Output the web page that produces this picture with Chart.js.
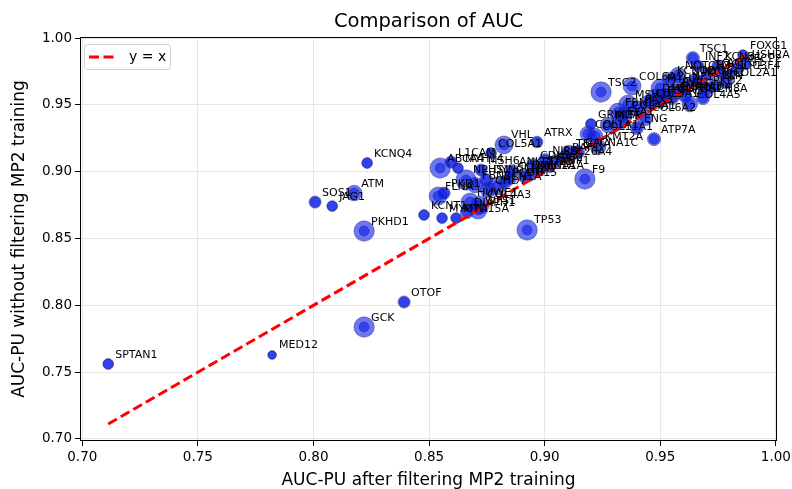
<!DOCTYPE html>
<html lang="en">
<head>
<meta charset="UTF-8">
<title>Comparison of AUC</title>
<script src="https://cdn.jsdelivr.net/npm/chart.js"></script>
<style>
    body { margin: 0; background: #fff; }
    #wrap { width: 792px; height: 489px; position: relative; }
</style>
</head>
<body>
<div id="wrap"><canvas id="aucChart"></canvas></div>
<script>
// gene labels and AUC values
const genes = ['SPTAN1','MED12','GCK','OTOF','PKHD1','SOS1','JAG1','ATM','KCNQ4','TP53',
    'F9','ATRX','VHL','COL5A1','ABCA4','L1CAM','MYH14','MSH6','NPHS1','FBN2',
    'PKD1','FLNA','KCNT1','MYO7A','DIAPH1','HUWE1','COL4A3','MYO15A','WFS1','CHD7',
    'SCN1A','DYNC1H1','PCDH15','ANKRD11','SCN2A','CACNA1A','CDH23','STXBP1','NIPBL','SLC26A4',
    'GJB2','TECTA','CACNA1C','COL1A1','COL11A1','GRIN2A','KMT2A','ENG','COL6A2','ATP7A',
    'TSC2','COL6A1','FBN1','MSH2','COL4A1','PAX3','TSC1','FOXG1','INF2','KCNB1',
    'MECP2','NOTCH3','COL2A1','PKD2','COL4A5','SCN8A','KCNQ2','MYH7','DMD','LAMA2',
    'RYR1','NF1','MYO6','TMC1','ACTG1','POU3F4','USH2A','COL3A1','FGFR3','TGFBR2',
    'SMAD4','ELN','KCNH2','EYA1','MITF','RAF1','SMC1A'];
// x: after filtering MP2 training
const aucAfter = [0.7112,0.7821,0.8219,0.8392,0.8219,0.8007,0.8081,0.8176,0.8232,0.8924,
    0.9174,0.8967,0.8824,0.8768,0.8548,0.8595,0.8625,0.8725,0.8660,0.8699,
    0.8565,0.8539,0.8478,0.8556,0.8664,0.8677,0.8721,0.8617,0.8712,0.8755,
    0.8794,0.8747,0.8829,0.8859,0.8850,0.8911,0.8950,0.8980,0.9002,0.9049,
    0.9023,0.9105,0.9144,0.9187,0.9218,0.9200,0.9231,0.9399,0.9434,0.9473,
    0.9244,0.9378,0.9317,0.9360,0.9347,0.9404,0.9641,0.9858,0.9663,0.9749,
    0.9832,0.9577,0.9784,0.9698,0.9628,0.9685,0.9542,0.9499,0.9477,0.9520,
    0.9564,0.9607,0.9650,0.9706,0.9758,0.9801,0.9866,0.9447,0.9499,0.9551,
    0.9607,0.9736,0.9672,0.9326,0.9274,0.9088,0.8937];
// y: without filtering MP2 training
const aucWithout = [0.7561,0.7629,0.7838,0.8025,0.8556,0.8773,0.8743,0.8840,0.9065,0.8564,
    0.8945,0.9222,0.9200,0.9140,0.9027,0.9072,0.9027,0.9012,0.8938,0.8900,
    0.8840,0.8818,0.8676,0.8653,0.8698,0.8773,0.8751,0.8653,0.8713,0.8863,
    0.8893,0.8938,0.8923,0.9005,0.8953,0.8968,0.9050,0.9012,0.9087,0.9080,
    0.9035,0.9140,0.9147,0.9282,0.9267,0.9357,0.9185,0.9327,0.9402,0.9244,
    0.9596,0.9641,0.9446,0.9506,0.9424,0.9469,0.9850,0.9873,0.9791,0.9791,
    0.9776,0.9723,0.9671,0.9611,0.9506,0.9551,0.9686,0.9626,0.9551,0.9566,
    0.9596,0.9641,0.9686,0.9731,0.9746,0.9723,0.9805,0.9514,0.9536,0.9551,
    0.9566,0.9648,0.9671,0.9372,0.9349,0.9110,0.8975];
// relative marker weight (bigger = larger circle)
const markerWeight = [1,0.5,3,1.3,3,1.3,1,2,1,3,
    3,1.2,2.5,1,3,1.3,1,1.3,3,2,
    1.3,2.5,1,1,1.5,2.5,2.5,1,2.5,2,
    2.5,1.5,1.5,1.5,1.5,1.5,1.5,1.3,1.5,1.5,
    1,2,1.5,2,2,1,2,1.5,2,1.5,
    3,2.5,2.5,2.5,2,2,1.5,1,1.3,1.3,
    1.3,2,1.5,2,2,1.5,2,2.5,2.5,2,
    2,2,1.5,1.5,1.5,1,1,2,2,1.5,
    1.5,1.5,1.5,2,2,1.5,1.3];
const xTicks = [0.70, 0.75, 0.80, 0.85, 0.90, 0.95, 1.00];
const yTicks = [0.70, 0.75, 0.80, 0.85, 0.90, 0.95, 1.00];

const FONT = '"DejaVu Sans", sans-serif';
Chart.defaults.font.family = FONT;
Chart.defaults.color = '#000';

const points = genes.map((g, i) => ({ x: aucAfter[i], y: aucWithout[i] }));
const lo = Math.min(...aucAfter, ...aucWithout);
const hi = Math.max(...aucAfter, ...aucWithout);
const outerR = i => 3 + 2.4 * markerWeight[i];

// gene names next to each point
const labelPlugin = {
    id: 'geneLabels',
    afterDatasetsDraw(chart) {
        const ctx = chart.ctx;
        const meta = chart.getDatasetMeta(2);
        ctx.save();
        ctx.font = '11px ' + FONT;
        ctx.fillStyle = '#000';
        ctx.textBaseline = 'alphabetic';
        meta.data.forEach((pt, i) => ctx.fillText(genes[i], pt.x + 7, pt.y - 6.5));
        ctx.restore();
    }
};

// title, frame and legend box
const decorPlugin = {
    id: 'decor',
    afterDraw(chart) {
        const ctx = chart.ctx;
        const a = chart.chartArea;
        ctx.save();
        ctx.strokeStyle = '#000';
        ctx.lineWidth = 1;
        ctx.strokeRect(Math.round(a.left) + 0.5, Math.round(a.top) + 0.5,
            Math.round(a.right - a.left) - 1, Math.round(a.bottom - a.top) - 1);

        ctx.font = '19.5px ' + FONT;
        ctx.textAlign = 'center';
        ctx.textBaseline = 'middle';
        ctx.fillText('Comparison of AUC', (a.left + a.right) / 2, 22);

        // legend
        const bx = a.left + 4, by = a.top + 7, bw = 86, bh = 25;
        ctx.beginPath();
        ctx.roundRect(bx + 0.5, by + 0.5, bw, bh, 3);
        ctx.fillStyle = 'rgba(255,255,255,0.8)';
        ctx.fill();
        ctx.strokeStyle = '#d0d0d0';
        ctx.stroke();
        const ds = chart.data.datasets[0];
        ctx.beginPath();
        ctx.setLineDash(ds.borderDash);
        ctx.strokeStyle = ds.borderColor;
        ctx.lineWidth = ds.borderWidth;
        ctx.moveTo(bx + 5, by + 13);
        ctx.lineTo(bx + 32, by + 13);
        ctx.stroke();
        ctx.setLineDash([]);
        ctx.fillStyle = '#000';
        ctx.font = '14px ' + FONT;
        ctx.textAlign = 'left';
        ctx.fillText(ds.label, bx + 45, by + 13);
        ctx.restore();
    }
};

new Chart(document.getElementById('aucChart'), {
    type: 'scatter',
    data: {
        datasets: [
            {
                label: 'y = x',
                type: 'line',
                data: [{ x: lo, y: lo }, { x: hi, y: hi }],
                borderColor: 'red',
                borderDash: [10, 4.5],
                borderWidth: 3,
                pointRadius: 0,
                fill: false,
                order: 0
            },
            {
                label: 'core',
                data: points,
                pointRadius: ctx => Math.min(outerR(ctx.dataIndex), 5),
                backgroundColor: 'rgba(10,30,235,0.6)',
                borderColor: 'rgba(30,30,110,0.5)',
                borderWidth: 0.8,
                order: 1
            },
            {
                label: 'AUC',
                data: points,
                pointRadius: ctx => outerR(ctx.dataIndex),
                backgroundColor: 'rgba(10,30,235,0.6)',
                borderColor: 'rgba(30,30,110,0.5)',
                borderWidth: 0.8,
                order: 2
            }
        ]
    },
    options: {
        responsive: true,
        maintainAspectRatio: false,
        animation: false,
        events: [],
        layout: { padding: { top: 37, right: 15, left: 0, bottom: 0 } },
        plugins: {
            legend: { display: false },
            tooltip: { enabled: false }
        },
        scales: {
            x: {
                type: 'linear',
                min: 0.699,
                max: 1.0005,
                afterBuildTicks: s => { s.ticks = xTicks.map(v => ({ value: v })); },
                afterFit: s => { s.height = 48; s.paddingLeft = 0; s.paddingRight = 0; },
                ticks: {
                    callback: v => Number(v).toFixed(2),
                    font: { size: 13.5 },
                    padding: 3,
                    maxRotation: 0,
                    autoSkip: false
                },
                grid: { color: '#e6e6e6', tickColor: '#000', tickLength: 5 },
                border: { display: false },
                title: {
                    display: true,
                    text: 'AUC-PU after filtering MP2 training',
                    font: { size: 17, lineHeight: 1 },
                    padding: 0
                }
            },
            y: {
                type: 'linear',
                min: 0.6985,
                max: 1.0008,
                afterBuildTicks: s => { s.ticks = yTicks.map(v => ({ value: v })); },
                afterFit: s => { s.width = 80; s.paddingTop = 0; s.paddingBottom = 0; },
                ticks: {
                    callback: v => Number(v).toFixed(2),
                    font: { size: 13.5 },
                    padding: 3
                },
                grid: { color: '#e6e6e6', tickColor: '#000', tickLength: 5 },
                border: { display: false },
                title: {
                    display: true,
                    text: 'AUC-PU without filtering MP2 training',
                    font: { size: 17, lineHeight: 1 },
                    padding: { top: 11.5, bottom: 0 }
                }
            }
        }
    },
    plugins: [labelPlugin, decorPlugin]
});
</script>
</body>
</html>
